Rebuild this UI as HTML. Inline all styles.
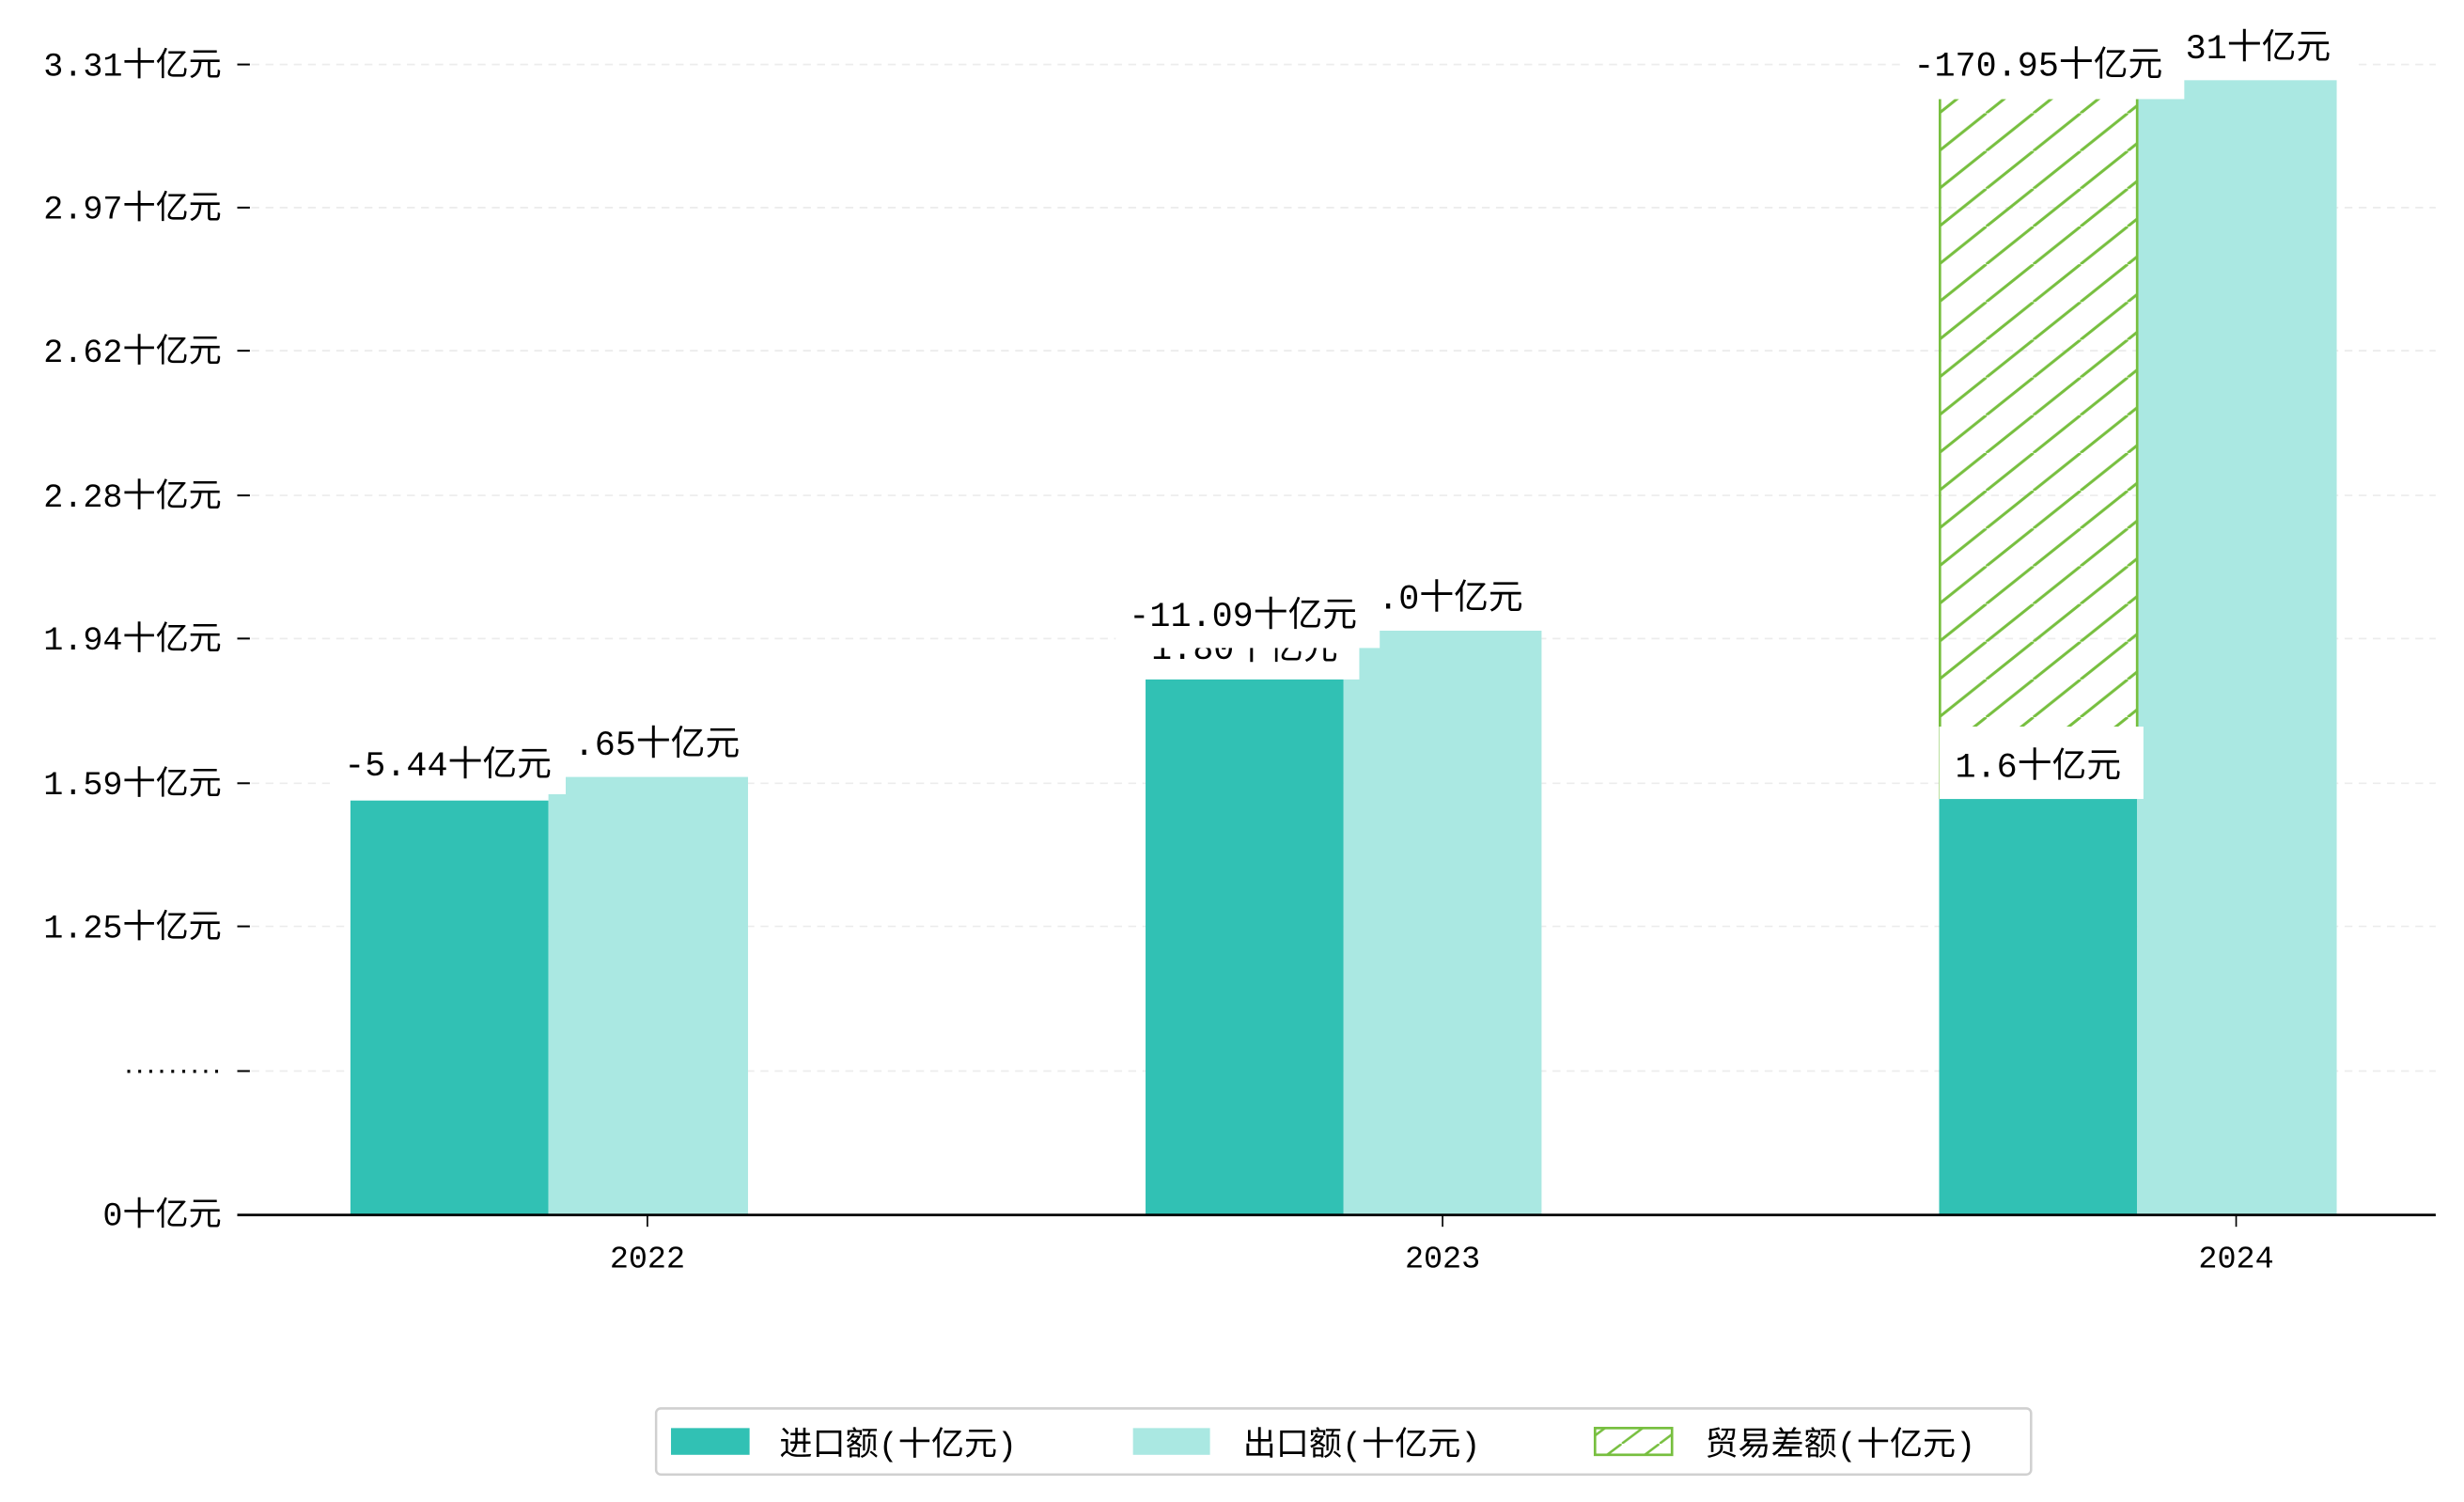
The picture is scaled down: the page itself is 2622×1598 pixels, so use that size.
<!DOCTYPE html>
<html><head><meta charset="utf-8"><style>
html,body{margin:0;padding:0;background:#fff;}
svg{display:block;}
text{font-family:"Liberation Mono","Noto Sans CJK SC","WenQuanYi Zen Hei",monospace;fill:#000;}
</style></head><body>
<svg width="2622" height="1598" viewBox="0 0 1568 955" preserveAspectRatio="none" xmlns="http://www.w3.org/2000/svg">
<defs>
<pattern id="h" patternUnits="userSpaceOnUse" width="30" height="24" patternTransform="translate(1234,0)">
<line x1="-30" y1="24" x2="0" y2="0" stroke="#77bf3f" stroke-width="1.8"/>
<line x1="0" y1="24" x2="30" y2="0" stroke="#77bf3f" stroke-width="1.8"/>
<line x1="30" y1="24" x2="60" y2="0" stroke="#77bf3f" stroke-width="1.8"/>
</pattern>
<pattern id="hl" patternUnits="userSpaceOnUse" width="24" height="18">
<line x1="0" y1="18" x2="24" y2="0" stroke="#77bf3f" stroke-width="1.5"/>
</pattern>
</defs>
<rect width="1568" height="955" fill="#fff"/>
<g stroke="#ececec" stroke-width="1" stroke-dasharray="5,4">
<line x1="160" y1="41" x2="1550" y2="41"/>
<line x1="160" y1="132" x2="1550" y2="132"/>
<line x1="160" y1="223" x2="1550" y2="223"/>
<line x1="160" y1="315" x2="1550" y2="315"/>
<line x1="160" y1="406" x2="1550" y2="406"/>
<line x1="160" y1="498" x2="1550" y2="498"/>
<line x1="160" y1="589" x2="1550" y2="589"/>
<line x1="160" y1="681" x2="1550" y2="681"/>
</g>
<g stroke="#000" stroke-width="1.2">
<line x1="151" y1="41" x2="159" y2="41"/><line x1="151" y1="132" x2="159" y2="132"/>
<line x1="151" y1="223" x2="159" y2="223"/><line x1="151" y1="315" x2="159" y2="315"/>
<line x1="151" y1="406" x2="159" y2="406"/><line x1="151" y1="498" x2="159" y2="498"/>
<line x1="151" y1="589" x2="159" y2="589"/><line x1="151" y1="681" x2="159" y2="681"/>
</g>
<g font-size="21" text-anchor="end">
<text x="141" y="48">3.31十亿元</text>
<text x="141" y="139">2.97十亿元</text>
<text x="141" y="230">2.62十亿元</text>
<text x="141" y="322">2.28十亿元</text>
<text x="141" y="413">1.94十亿元</text>
<text x="141" y="505">1.59十亿元</text>
<text x="141" y="596">1.25十亿元</text>
<text x="141" y="685" font-size="13" font-weight="bold" letter-spacing="-0.8">·········</text>
<text x="141" y="779">0十亿元</text>
</g>
<rect x="223" y="509" width="126" height="263" fill="#31c1b4"/>
<rect x="349" y="494" width="127" height="278" fill="#aae8e2"/>
<rect x="729" y="431" width="126" height="341" fill="#31c1b4"/>
<rect x="855" y="401" width="126" height="371" fill="#aae8e2"/>
<rect x="1234" y="508" width="126" height="264" fill="#31c1b4"/>
<rect x="1360" y="51" width="127" height="721" fill="#aae8e2"/>
<rect x="1234" y="63" width="126" height="445" fill="url(#h)"/>
<line x1="1234.5" y1="63" x2="1234.5" y2="508" stroke="#77bf3f" stroke-width="1.6"/>
<line x1="1360" y1="63" x2="1360" y2="508" stroke="#77bf3f" stroke-width="1.6"/>
<g font-size="22" text-anchor="middle">
<rect x="365" y="456" width="112" height="36" fill="#fff"/>
<text x="418" y="480">.65十亿元</text>
<rect x="210" y="467" width="150" height="38" fill="#fff"/>
<text x="285" y="493">-5.44十亿元</text>
<rect x="725" y="396" width="140" height="36" fill="#fff"/>
<text x="792" y="419">1.80十亿元</text>
<rect x="865" y="362" width="112" height="38" fill="#fff"/>
<text x="923" y="387">.0十亿元</text>
<rect x="710" y="372" width="168" height="40" fill="#fff"/>
<text x="791" y="398">-11.09十亿元</text>
<rect x="1370" y="12" width="130" height="38" fill="#fff"/>
<text x="1437" y="37">31十亿元</text>
<rect x="1210" y="22" width="180" height="41" fill="#fff"/>
<text x="1297" y="48">-170.95十亿元</text>
<rect x="1234" y="462" width="130" height="46" fill="#fff"/>
<text x="1297" y="494">1.6十亿元</text>
</g>
<line x1="151" y1="772.5" x2="1550" y2="772.5" stroke="#000" stroke-width="1.6"/>
<g stroke="#000" stroke-width="1">
<line x1="412" y1="772" x2="412" y2="780"/><line x1="918" y1="772" x2="918" y2="780"/><line x1="1423" y1="772" x2="1423" y2="780"/>
</g>
<g font-size="20" text-anchor="middle">
<text x="412" y="806">2022</text><text x="918" y="806">2023</text><text x="1423" y="806">2024</text>
</g>
<rect x="417.5" y="895.5" width="875" height="42" rx="3" fill="#fff" stroke="#d0d0d0" stroke-width="1.5"/>
<rect x="427" y="908" width="50" height="17" fill="#31c1b4"/>
<rect x="721" y="908" width="49" height="17" fill="#aae8e2"/>
<rect x="1015" y="908" width="49" height="17" fill="url(#hl)" stroke="#77bf3f" stroke-width="1.6"/>
<g font-size="21">
<text x="496" y="925">进口额(十亿元)</text>
<text x="791" y="925">出口额(十亿元)</text>
<text x="1085" y="925">贸易差额(十亿元)</text>
</g>
</svg>
</body></html>
